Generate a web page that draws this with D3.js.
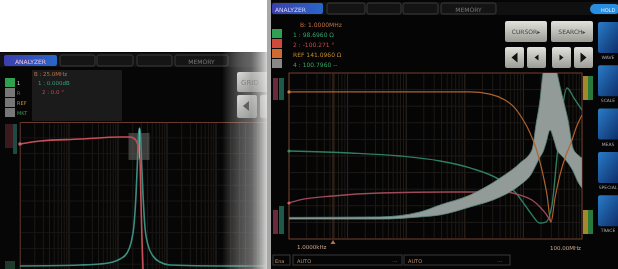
<!DOCTYPE html>
<html>
<head>
<meta charset="utf-8">
<script src="https://cdn.jsdelivr.net/npm/d3@7"></script>
<style>
  body { margin: 0; background: #ffffff; }
  svg { display: block; filter: blur(0.7px); font-family: "DejaVu Sans", sans-serif; }
</style>
</head>
<body>
<svg id="chart" width="618" height="269"></svg>
<script>
// ---- data (freq in MHz, level in divisions) ----
var leftRed = [[0.001, 8.61], [0.00256, 8.80], [0.0168, 8.92], [0.110, 9.05], [0.176, 9.05],
  [0.222, 8.92], [0.256, 8.54], [0.281, 7.59], [0.294, 5.06], [0.309, 2.53], [0.324, 0.70], [0.340, -0.63]];
var leftGreen = [[0.001, 0.89], [0.0168, 0.95], [0.0429, 1.01], [0.0791, 1.14], [0.110, 1.33],
  [0.153, 1.71], [0.184, 2.34], [0.212, 3.48], [0.233, 5.38], [0.250, 7.59], [0.262, 9.18],
  [0.275, 9.62], [0.288, 9.18], [0.302, 7.59], [0.324, 5.38], [0.356, 3.29], [0.409, 2.22],
  [0.518, 1.52], [0.719, 1.14], [1.15, 0.95], [12.1, 0.89], [100, 0.89]];

var rightOrange = [[0.001, 8.86], [0.0784, 8.86], [1.23, 8.86], [2.69, 8.73], [4.85, 8.37],
  [7.19, 7.89], [9.47, 7.29], [13.0, 6.39], [16.4, 5.48], [20.7, 4.16], [25.3, 2.65], [29.6, 1.02],
  [34.6, 2.47], [42.1, 3.86], [53.3, 5.06], [64.9, 5.78], [79.0, 6.69], [100, 7.47]];
var rightGreen = [[0.001, 5.30], [0.011, 5.18], [0.0784, 5.00], [0.378, 4.70], [1.23, 4.28],
  [3.99, 3.55], [7.19, 2.83], [10.6, 2.05], [14.0, 1.45], [19.2, 0.96], [24.3, 1.02], [30.8, 2.05],
  [37.4, 4.94], [45.6, 7.77], [55.5, 9.10], [73.0, 8.49], [100, 7.77]];
var rightPink = [[0.001, 2.17], [0.00154, 2.35], [0.00564, 2.59], [0.0357, 2.77], [0.559, 2.83],
  [4.85, 2.83], [8.75, 2.65], [14.0, 2.35], [19.2, 1.93], [24.3, 1.51], [29.6, 1.02]];
// resonance envelope: [freq, upper, lower]
var rightBand = [[0.001, 1.30, 1.20], [0.0357, 1.33, 1.20], [0.172, 1.63, 1.33], [0.378, 2.05, 1.45],
  [1.23, 2.65, 1.93], [3.99, 3.67, 2.53], [8.75, 4.58, 3.25], [14.0, 5.36, 3.98], [16.4, 6.87, 4.46],
  [19.2, 8.37, 4.94], [21.6, 10.0, 5.24], [24.3, 10.8, 5.78], [28.5, 11.1, 6.57], [33.3, 10.8, 5.96],
  [37.4, 10.0, 5.36], [45.6, 8.67, 5.00], [57.7, 7.17, 4.58], [70.2, 5.48, 4.10], [85.5, 5.06, 3.43],
  [100, 4.88, 3.07]];

var leftMarkerF = 0.275;
var rightMarkerF = 0.00564;

var leftTabs = ["ANALYZER", "", "", "", "MEMORY"];
var rightTabs = ["ANALYZER", "", "", "", "MEMORY"];
var leftReadout = ["B : 25.0MHz", "1 : 0.000dB", "2 : 0.0 °"];
var rightReadout = ["B: 1.0000MHz", "1 : 98.6960 Ω", "2 : -100.271 °", "REF 141.0960 Ω", "4 : 100.7960 --"];
var sideLabels = ["WAVE", "SCALE", "MEAS", "SPECIAL", "TRACE"];
var xTickLabels = ["1.0000kHz", "100.00MHz"];
var bottomLabels = ["Ena", "AUTO", "AUTO"];

var svg = d3.select("#chart");
var defs = svg.append("defs");

// gradients
var blueTab = defs.append("linearGradient").attr("id", "blueTab").attr("x1", 0).attr("x2", 1);
blueTab.append("stop").attr("offset", "0%").attr("stop-color", "#3b3fae");
blueTab.append("stop").attr("offset", "100%").attr("stop-color", "#2a66c8");

var btnGrad = defs.append("linearGradient").attr("id", "btnGrad").attr("x1", 0).attr("x2", 0).attr("y1", 0).attr("y2", 1);
btnGrad.append("stop").attr("offset", "0%").attr("stop-color", "#e2e2dc");
btnGrad.append("stop").attr("offset", "100%").attr("stop-color", "#9c9c96");

var iconGrad = defs.append("linearGradient").attr("id", "iconGrad").attr("x1", 0).attr("x2", 1).attr("y1", 0).attr("y2", 1);
iconGrad.append("stop").attr("offset", "0%").attr("stop-color", "#2a7cc8");
iconGrad.append("stop").attr("offset", "100%").attr("stop-color", "#0c2b66");

var fade = defs.append("linearGradient").attr("id", "fade").attr("x1", 0).attr("x2", 1);
fade.append("stop").attr("offset", "0%").attr("stop-color", "#ffffff").attr("stop-opacity", 0);
fade.append("stop").attr("offset", "60%").attr("stop-color", "#9a9a9a").attr("stop-opacity", 0.6);
fade.append("stop").attr("offset", "100%").attr("stop-color", "#eeeeee").attr("stop-opacity", 1);

// ================= LEFT SCREEN =================
var left = svg.append("g");
left.append("rect").attr("x", 0).attr("y", 52).attr("width", 270).attr("height", 217).attr("fill", "#060606");

// top tabs
left.append("rect").attr("x", 0).attr("y", 53).attr("width", 270).attr("height", 14).attr("fill", "#121212");
var leftTabX = [[4, 57], [60, 95], [97, 133], [137, 172], [175, 228]];
left.selectAll(".tab").data(leftTabs).enter().append("rect")
    .attr("x", function(d, i) { return leftTabX[i][0]; })
    .attr("y", 55)
    .attr("width", function(d, i) { return leftTabX[i][1] - leftTabX[i][0]; })
    .attr("height", 11)
    .attr("rx", 2)
    .attr("fill", function(d, i) { return i == 0 ? "url(#blueTab)" : "#151515"; })
    .attr("stroke", function(d, i) { return i == 0 ? "none" : "#3a3a3a"; });
left.selectAll(".tabtxt").data(leftTabs).enter().append("text")
    .attr("x", function(d, i) { return (leftTabX[i][0] + leftTabX[i][1]) / 2; })
    .attr("y", 63.5)
    .attr("text-anchor", "middle")
    .attr("font-size", 6)
    .attr("fill", function(d, i) { return i == 0 ? "#f0c0d8" : "#777"; })
    .text(function(d) { return d; });

// readout panel
left.append("rect").attr("x", 32).attr("y", 70).attr("width", 90).attr("height", 51).attr("fill", "#1b1b1b");
var leftReadColor = ["#c07040", "#3a9a80", "#c04a50"];
left.selectAll(".lr").data(leftReadout).enter().append("text")
    .attr("x", function(d, i) { return 34 + i * 4; })
    .attr("y", function(d, i) { return 76 + i * 9; })
    .attr("font-size", 5.5)
    .attr("fill", function(d, i) { return leftReadColor[i]; })
    .text(function(d) { return d; });

// trace selector buttons
var selColors = ["#2ea050", "#777", "#777", "#777"];
var selText = ["1", "R", "REF", "MKT"];
var selTextColor = ["#ddd", "#c04a50", "#c08a30", "#3a9a50"];
left.selectAll(".sel").data(selColors).enter().append("rect")
    .attr("x", 5).attr("y", function(d, i) { return 78 + i * 10; })
    .attr("width", 10).attr("height", 9)
    .attr("fill", function(d) { return d; });
left.selectAll(".seltxt").data(selText).enter().append("text")
    .attr("x", 17).attr("y", function(d, i) { return 85 + i * 10; })
    .attr("font-size", 5).attr("fill", function(d, i) { return selTextColor[i]; })
    .text(function(d) { return d; });

// GRID + arrow buttons
left.append("rect").attr("x", 237).attr("y", 72).attr("width", 40).attr("height", 20).attr("rx", 2).attr("fill", "url(#btnGrad)");
left.append("text").attr("x", 241).attr("y", 85).attr("font-size", 7).attr("fill", "#555").text("GRID");
[237, 260].forEach(function(bx, i) {
  left.append("rect").attr("x", bx).attr("y", 95).attr("width", 20).attr("height", 23).attr("rx", 2).attr("fill", "url(#btnGrad)");
  left.append("path")
      .attr("d", i == 0 ? "M" + (bx + 6) + ",106 l6,-5 v10 z" : "M" + (bx + 8) + ",106 l4,-3 v6 z")
      .attr("fill", "#111");
});

// left plot scales
var xL = d3.scaleLog().domain([0.001, 100]).range([20, 265]);
var yL = d3.scaleLinear().domain([0, 10]).range([280, 122]);

defs.append("clipPath").attr("id", "clipL").append("rect")
    .attr("x", 20).attr("y", 122).attr("width", 250).attr("height", 150);

var plotL = left.append("g");
plotL.selectAll(".vg").data(xL.ticks()).enter().append("line")
    .attr("x1", function(d) { return xL(d); }).attr("x2", function(d) { return xL(d); })
    .attr("y1", 122).attr("y2", 269)
    .attr("stroke", function(d) { return Math.abs(Math.log10(d) % 1) < 1e-6 ? "#2e2620" : "#1c1916"; })
    .attr("stroke-width", 1);
plotL.selectAll(".hg").data(yL.ticks(10).filter(function(d) { return d > 0 && d < 10; })).enter().append("line")
    .attr("x1", 20).attr("x2", 268)
    .attr("y1", function(d) { return yL(d); }).attr("y2", function(d) { return yL(d); })
    .attr("stroke", "#191614");
plotL.append("line").attr("x1", 20).attr("x2", 268).attr("y1", 122.5).attr("y2", 122.5).attr("stroke", "#6a3a2c");
plotL.append("line").attr("x1", 20.5).attr("x2", 20.5).attr("y1", 122).attr("y2", 269).attr("stroke", "#4a2a22");

// marker box
plotL.append("rect")
    .attr("x", xL(leftMarkerF) - 11).attr("y", yL(9.18) - 2)
    .attr("width", 21).attr("height", 27)
    .attr("fill", "#6a6a66").attr("opacity", 0.55);

var lineL = d3.line()
    .x(function(d) { return xL(d[0]); })
    .y(function(d) { return yL(d[1]); })
    .curve(d3.curveMonotoneX);

var tracesL = plotL.append("g").attr("clip-path", "url(#clipL)");
tracesL.append("path").datum(leftGreen).attr("d", lineL)
    .attr("fill", "none").attr("stroke", "#3c8e80").attr("stroke-width", 1.6);
tracesL.append("path").datum(leftRed).attr("d", lineL)
    .attr("fill", "none").attr("stroke", "#c84e58").attr("stroke-width", 1.6);
tracesL.append("line")
    .attr("x1", xL(leftMarkerF)).attr("x2", xL(leftMarkerF))
    .attr("y1", yL(9.6)).attr("y2", yL(7.7))
    .attr("stroke", "#b0b0a8").attr("stroke-width", 0.8);

// left axis tags
left.append("rect").attr("x", 5).attr("y", 124).attr("width", 8).attr("height", 24).attr("fill", "#3a1a1e");
left.append("rect").attr("x", 13).attr("y", 124).attr("width", 4).attr("height", 30).attr("fill", "#1e4a44");
left.append("circle").attr("cx", xL(0.001)).attr("cy", yL(8.61)).attr("r", 1.8).attr("fill", "#d06068");
left.append("rect").attr("x", 5).attr("y", 261).attr("width", 10).attr("height", 8).attr("fill", "#1e3a2a");

// fade of the left photo edge
left.append("rect").attr("x", 222).attr("y", 52).attr("width", 48).attr("height", 217).attr("fill", "url(#fade)");

// ================= RIGHT SCREEN =================
var right = svg.append("g");
right.append("rect").attr("x", 267).attr("y", 0).attr("width", 5).attr("height", 269).attr("fill", "#a8a8a6");
right.append("rect").attr("x", 271).attr("y", 0).attr("width", 347).attr("height", 269).attr("fill", "#050505");

// top bar
right.append("rect").attr("x", 271).attr("y", 2).attr("width", 347).attr("height", 13).attr("fill", "#101010");
var rightTabX = [[272, 323], [327, 365], [367, 401], [403, 438], [441, 496]];
right.selectAll(".tab").data(rightTabs).enter().append("rect")
    .attr("x", function(d, i) { return rightTabX[i][0]; })
    .attr("y", 3)
    .attr("width", function(d, i) { return rightTabX[i][1] - rightTabX[i][0]; })
    .attr("height", 11)
    .attr("rx", 2)
    .attr("fill", function(d, i) { return i == 0 ? "url(#blueTab)" : "#141414"; })
    .attr("stroke", function(d, i) { return i == 0 ? "none" : "#3a3a3a"; });
right.selectAll(".tabtxt").data(rightTabs).enter().append("text")
    .attr("x", function(d, i) { return i == 0 ? rightTabX[i][0] + 3 : (rightTabX[i][0] + rightTabX[i][1]) / 2; })
    .attr("y", 11.5)
    .attr("text-anchor", function(d, i) { return i == 0 ? "start" : "middle"; })
    .attr("font-size", 6)
    .attr("fill", function(d, i) { return i == 0 ? "#d8d8f0" : "#777"; })
    .text(function(d) { return d; });
right.append("rect").attr("x", 590).attr("y", 4).attr("width", 30).attr("height", 10).attr("rx", 5).attr("fill", "#2a8ee0");
right.append("text").attr("x", 601).attr("y", 11.5).attr("font-size", 5).attr("fill", "#e0f0ff").text("HOLD");

// readout
var rightReadColor = ["#c07040", "#3aa070", "#c04a50", "#c08a30", "#3aa060"];
right.selectAll(".rr").data(rightReadout).enter().append("text")
    .attr("x", function(d, i) { return i == 0 ? 300 : 293; })
    .attr("y", function(d, i) { return 27 + i * 10; })
    .attr("font-size", 6)
    .attr("fill", function(d, i) { return rightReadColor[i]; })
    .text(function(d) { return d; });
var rSel = ["#2ea050", "#d04a3a", "#d06a30", "#888"];
right.selectAll(".rsel").data(rSel).enter().append("rect")
    .attr("x", 272).attr("y", function(d, i) { return 29 + i * 10; })
    .attr("width", 10).attr("height", 9)
    .attr("fill", function(d) { return d; });

// cursor / search buttons
[["CURSOR▸", 505], ["SEARCH▸", 551]].forEach(function(b) {
  right.append("rect").attr("x", b[1]).attr("y", 21).attr("width", 42).attr("height", 21).attr("rx", 2).attr("fill", "url(#btnGrad)");
  right.append("text").attr("x", b[1] + 21).attr("y", 34).attr("text-anchor", "middle")
      .attr("font-size", 6).attr("fill", "#444").text(b[0]);
});
[505, 527, 552, 574].forEach(function(bx, i) {
  right.append("rect").attr("x", bx).attr("y", 47).attr("width", 19).attr("height", 21).attr("rx", 2).attr("fill", "url(#btnGrad)");
  var cx = bx + 9.5;
  var d = i == 0 ? "M" + (cx - 3) + ",57.5 l6,-5 v10 z"
        : i == 1 ? "M" + (cx - 2) + ",57.5 l4,-3 v6 z"
        : i == 2 ? "M" + (cx + 2) + ",57.5 l-4,-3 v6 z"
        : "M" + (cx + 3) + ",57.5 l-6,-5 v10 z";
  right.append("path").attr("d", d).attr("fill", "#111");
});

// side icon column
right.selectAll(".icon").data(sideLabels).enter().append("rect")
    .attr("x", 598).attr("y", function(d, i) { return 22 + i * 43.3; })
    .attr("width", 22).attr("height", 31).attr("rx", 2)
    .attr("fill", "url(#iconGrad)");
right.selectAll(".icontxt").data(sideLabels).enter().append("text")
    .attr("x", 608).attr("y", function(d, i) { return 59 + i * 43.3; })
    .attr("text-anchor", "middle").attr("font-size", 4.5).attr("fill", "#aaa")
    .text(function(d) { return d; });

// right plot scales
var xR = d3.scaleLog().domain([0.001, 100]).range([289, 582]);
var yR = d3.scaleLinear().domain([0, 10]).range([239, 73]);

defs.append("clipPath").attr("id", "clipR").append("rect")
    .attr("x", 289).attr("y", 73).attr("width", 293).attr("height", 166);

var plotR = right.append("g");
plotR.selectAll(".vg").data(xR.ticks()).enter().append("line")
    .attr("x1", function(d) { return xR(d); }).attr("x2", function(d) { return xR(d); })
    .attr("y1", 73).attr("y2", 239)
    .attr("stroke", function(d) { return Math.abs(Math.log10(d) % 1) < 1e-6 ? "#32281f" : "#1e1a16"; });
plotR.selectAll(".hg").data(yR.ticks(10)).enter().append("line")
    .attr("x1", 289).attr("x2", 582)
    .attr("y1", function(d) { return yR(d); }).attr("y2", function(d) { return yR(d); })
    .attr("stroke", "#1e1a17");
plotR.append("rect").attr("x", 289).attr("y", 73).attr("width", 293).attr("height", 166)
    .attr("fill", "none").attr("stroke", "#5a3024").attr("stroke-width", 1.2);

// marker line
plotR.append("line")
    .attr("x1", xR(rightMarkerF)).attr("x2", xR(rightMarkerF))
    .attr("y1", 73).attr("y2", 239)
    .attr("stroke", "#4a2a20").attr("stroke-width", 1.2);
plotR.append("path")
    .attr("d", "M" + xR(rightMarkerF) + ",240 l-2.5,4 h5 z")
    .attr("fill", "#c07040");

var lineR = d3.line()
    .x(function(d) { return xR(d[0]); })
    .y(function(d) { return yR(d[1]); })
    .curve(d3.curveMonotoneX);
var bandR = d3.area()
    .x(function(d) { return xR(d[0]); })
    .y0(function(d) { return yR(d[2]); })
    .y1(function(d) { return yR(d[1]); })
    .curve(d3.curveMonotoneX);

var tracesR = plotR.append("g").attr("clip-path", "url(#clipR)");
tracesR.append("path").datum(rightGreen).attr("d", lineR)
    .attr("fill", "none").attr("stroke", "#2e7e62").attr("stroke-width", 1.4);
tracesR.append("path").datum(rightPink).attr("d", lineR)
    .attr("fill", "none").attr("stroke", "#9e4a58").attr("stroke-width", 1.3);
tracesR.append("path").datum(rightBand).attr("d", bandR)
    .attr("fill", "#939b99").attr("stroke", "#5a8a80").attr("stroke-width", 0.8);
tracesR.append("path").datum(rightOrange).attr("d", lineR)
    .attr("fill", "none").attr("stroke", "#b0622e").attr("stroke-width", 1.2);

// axis tags on both sides
right.append("rect").attr("x", 273).attr("y", 78).attr("width", 5).attr("height", 22).attr("fill", "#6a2a3a");
right.append("rect").attr("x", 279).attr("y", 78).attr("width", 5).attr("height", 22).attr("fill", "#1e5a4a");
right.append("rect").attr("x", 273).attr("y", 210).attr("width", 5).attr("height", 24).attr("fill", "#6a2a3a");
right.append("rect").attr("x", 279).attr("y", 206).attr("width", 5).attr("height", 28).attr("fill", "#1e5a4a");
right.append("rect").attr("x", 583).attr("y", 76).attr("width", 5).attr("height", 24).attr("fill", "#a08a2a");
right.append("rect").attr("x", 588).attr("y", 76).attr("width", 5).attr("height", 24).attr("fill", "#2a7a3a");
right.append("rect").attr("x", 583).attr("y", 210).attr("width", 5).attr("height", 24).attr("fill", "#a08a2a");
right.append("rect").attr("x", 588).attr("y", 210).attr("width", 5).attr("height", 24).attr("fill", "#2a7a3a");
right.append("circle").attr("cx", xR(0.001)).attr("cy", yR(8.86)).attr("r", 1.6).attr("fill", "#c88a3a");
right.append("circle").attr("cx", xR(0.001)).attr("cy", yR(2.17)).attr("r", 1.6).attr("fill", "#d06068");
right.append("circle").attr("cx", xR(0.001)).attr("cy", yR(5.30)).attr("r", 1.6).attr("fill", "#2e8e6e");

// frequency labels under the plot
right.append("text").attr("x", 297).attr("y", 249).attr("font-size", 5.5).attr("fill", "#c8a890").text(xTickLabels[0]);
right.append("text").attr("x", 581).attr("y", 250).attr("text-anchor", "end").attr("font-size", 5.5).attr("fill", "#c8a890").text(xTickLabels[1]);

// bottom bar
right.append("rect").attr("x", 273).attr("y", 255).attr("width", 17).attr("height", 10).attr("fill", "none").attr("stroke", "#3a3a3a");
right.append("rect").attr("x", 293).attr("y", 255).attr("width", 109).attr("height", 10).attr("fill", "none").attr("stroke", "#3a3a3a");
right.append("rect").attr("x", 404).attr("y", 255).attr("width", 106).attr("height", 10).attr("fill", "none").attr("stroke", "#3a3a3a");
right.append("text").attr("x", 275).attr("y", 262.5).attr("font-size", 5).attr("fill", "#c09070").text(bottomLabels[0]);
right.append("text").attr("x", 297).attr("y", 262.5).attr("font-size", 5).attr("fill", "#c09070").text(bottomLabels[1]);
right.append("text").attr("x", 408).attr("y", 262.5).attr("font-size", 5).attr("fill", "#c09070").text(bottomLabels[2]);
right.append("text").attr("x", 392).attr("y", 262.5).attr("font-size", 5).attr("fill", "#777").text("---");
right.append("text").attr("x", 497).attr("y", 262.5).attr("font-size", 5).attr("fill", "#777").text("---");
</script>
</body>
</html>
